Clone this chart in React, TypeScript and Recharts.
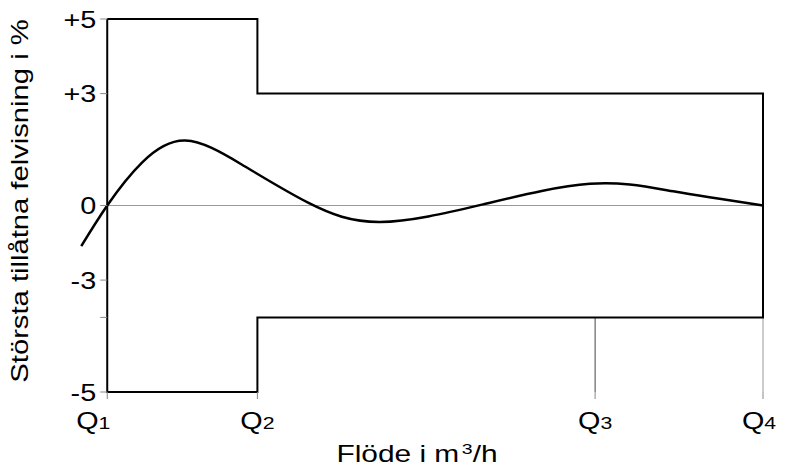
import { LineChart, Line, XAxis, YAxis, ReferenceLine, Label } from 'recharts'

// flow positions of Q1..Q4 (relative units) and their subscripts
const qPos = [0, 22.9, 74.4, 100]
const qSubs = ['1', '2', '3', '4']

// y ticks and the labels printed beside them
const yTicks = [5, 3, 0, -2, -3, -5]
const yTickLabels = ['+5', '+3', '0', '-3', '', '-5']

// limits of permitted error (closed outline)
const limitX = [0, 22.9, 22.9, 100, 100, 22.9, 22.9, 0, 0]
const limitY = [5, 5, 3, 3, -3, -3, -5, -5, 5]

// typical error curve of a meter
const curveX = [-3.96, 0, 5.3, 11.9, 20.5, 30.7, 41.6, 57.3, 73.6, 86.3, 100]
const curveY = [-1.09, 0, 1.15, 1.74, 1.1, 0.07, -0.44, 0.03, 0.58, 0.38, 0]

const limits = limitX.map((x, i) => ({ x, y: limitY[i] }))
const curve = curveX.map((x, i) => ({ x, y: curveY[i] }))

const W = 800
const H = 475
const M = { top: 19, right: 37, bottom: 0, left: 0 }
const Y_W = 81
const X_DOMAIN = [-4, 100]
const FONT = 'Liberation Sans, Arial, sans-serif'

// pixel x of Q1, where the y axis is drawn
const plotLeft = M.left + Y_W
const plotW = W - M.right - plotLeft
const q1px = plotLeft + ((0 - X_DOMAIN[0]) / (X_DOMAIN[1] - X_DOMAIN[0])) * plotW

const YTick = (props: any) => {
  const { y, payload } = props
  const i = yTicks.indexOf(payload.value)
  return (
    <g>
      <line x1={q1px - 7} x2={q1px} y1={y} y2={y} stroke="#888" />
      <g transform={`translate(${q1px - 11},${y}) scale(1.2,1)`}>
        <text textAnchor="end" dy="0.36em" fontSize={24} fontFamily={FONT} fill="#000">
          {yTickLabels[i]}
        </text>
      </g>
    </g>
  )
}

const QTick = (props: any) => {
  const { x, y, payload } = props
  const i = qPos.indexOf(payload.value)
  const dx = i === 0 ? -14 : i === 3 ? -4 : 0
  return (
    <g transform={`translate(${x + dx},${y + 28}) scale(1.25,1)`}>
      <text textAnchor="middle" fontSize={23} fontFamily={FONT} fill="#000">
        Q<tspan fontSize={17}>{qSubs[i]}</tspan>
      </text>
    </g>
  )
}

const XTitle = () => (
  <g transform="translate(417,462) scale(1.3,1)">
    <text textAnchor="middle" fontSize={23} fontFamily={FONT} fill="#000">
      Flöde i m<tspan fontSize={15} dx={2} dy={-8}>3</tspan>
      <tspan dy={8}>/h</tspan>
    </text>
  </g>
)

const YTitle = () => (
  <g transform="translate(28,201) rotate(-90) scale(1.27,1)">
    <text textAnchor="middle" fontSize={23} fontFamily={FONT} fill="#000">
      Största tillåtna felvisning i %
    </text>
  </g>
)

export default function App() {
  return (
    <div style={{ position: 'absolute', left: 0, top: 0, background: '#fff' }}>
      <LineChart width={W} height={H} margin={M}>
        <XAxis
          type="number"
          dataKey="x"
          domain={X_DOMAIN}
          ticks={qPos}
          interval={0}
          axisLine={false}
          tickLine={{ stroke: '#888' }}
          tickSize={7}
          tick={<QTick />}
          height={83}
        >
          <Label content={<XTitle />} />
        </XAxis>
        <YAxis
          type="number"
          domain={[-5, 5]}
          ticks={yTicks}
          interval={0}
          axisLine={false}
          tickLine={false}
          tick={<YTick />}
          width={Y_W}
        >
          <Label content={<YTitle />} />
        </YAxis>
        <ReferenceLine segment={[{ x: 0, y: 0 }, { x: 100, y: 0 }]} stroke="#999" strokeWidth={1.2} />
        <ReferenceLine segment={[{ x: qPos[2], y: -3 }, { x: qPos[2], y: -5 }]} stroke="#444" />
        <ReferenceLine segment={[{ x: qPos[3], y: -3 }, { x: qPos[3], y: -5 }]} stroke="#999" />
        <Line
          data={limits}
          dataKey="y"
          type="linear"
          stroke="#000"
          strokeWidth={2}
          dot={false}
          isAnimationActive={false}
        />
        <Line
          data={curve}
          dataKey="y"
          type="natural"
          stroke="#000"
          strokeWidth={2.5}
          dot={false}
          isAnimationActive={false}
        />
      </LineChart>
    </div>
  )
}
